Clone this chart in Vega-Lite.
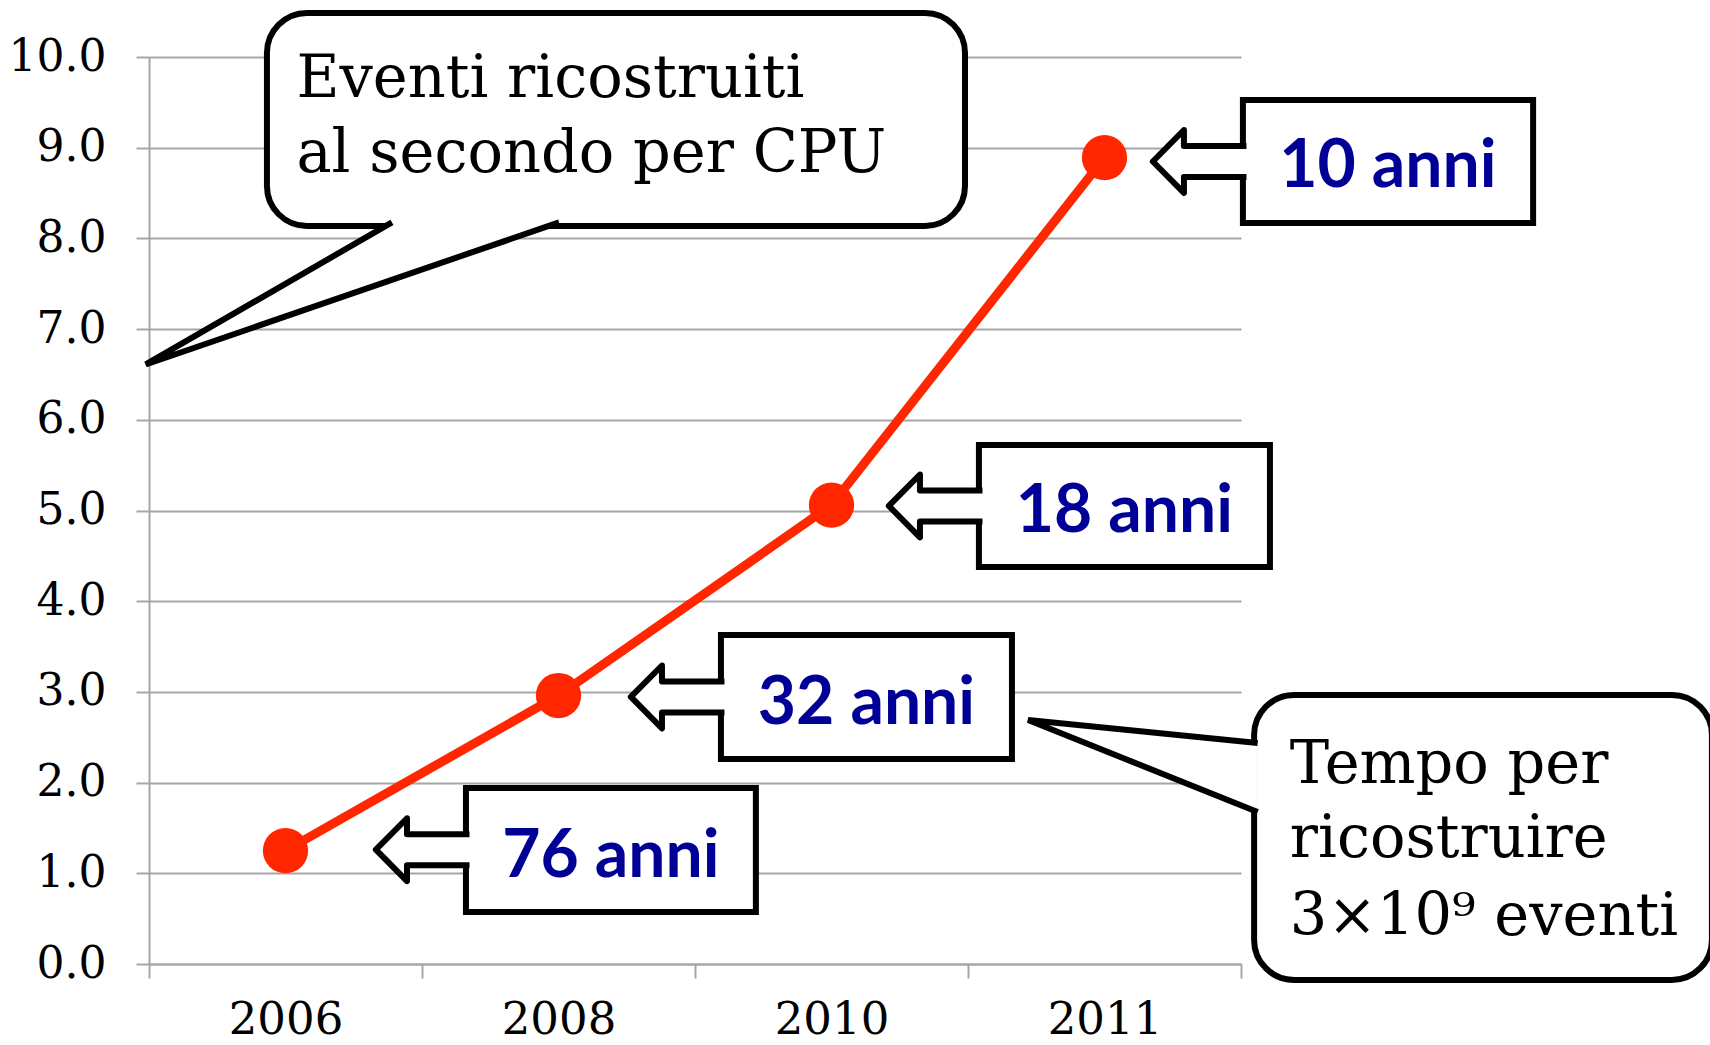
{
  "$schema": "https://vega.github.io/schema/vega-lite/v6.json",
  "width": 1092,
  "height": 907,
  "autosize": {"type": "none"},
  "padding": {"left": 149, "top": 57, "right": 469, "bottom": 81},
  "background": "white",
  "config": {"view": {"stroke": null}},
  "datasets": {
    "series": [
      {"year": "2006", "rate": 1.25},
      {"year": "2008", "rate": 2.96},
      {"year": "2010", "rate": 5.06},
      {"year": "2011", "rate": 8.89}
    ],
    "boxes": [
      {"label": "76 anni", "x1": 1.161, "x2": 2.223, "y1": 0.573, "y2": 1.94, "tx": 1.692, "ty": 0.959},
      {"label": "32 anni", "x1": 2.095, "x2": 3.161, "y1": 2.26, "y2": 3.627, "tx": 2.628, "ty": 2.646},
      {"label": "18 anni", "x1": 3.04, "x2": 4.106, "y1": 4.377, "y2": 5.722, "tx": 3.573, "ty": 4.762},
      {"label": "10 anni", "x1": 4.007, "x2": 5.07, "y1": 8.17, "y2": 9.526, "tx": 4.538, "ty": 8.567}
    ],
    "arrows": [
      {"label": "76 anni", "i": 0, "x": 1.174, "y": 1.431},
      {"label": "76 anni", "i": 1, "x": 0.945, "y": 1.431},
      {"label": "76 anni", "i": 2, "x": 0.945, "y": 1.607},
      {"label": "76 anni", "i": 3, "x": 0.831, "y": 1.26},
      {"label": "76 anni", "i": 4, "x": 0.945, "y": 0.913},
      {"label": "76 anni", "i": 5, "x": 0.945, "y": 1.089},
      {"label": "76 anni", "i": 6, "x": 1.174, "y": 1.089},
      {"label": "32 anni", "i": 0, "x": 2.108, "y": 3.115},
      {"label": "32 anni", "i": 1, "x": 1.879, "y": 3.115},
      {"label": "32 anni", "i": 2, "x": 1.879, "y": 3.291},
      {"label": "32 anni", "i": 3, "x": 1.765, "y": 2.944},
      {"label": "32 anni", "i": 4, "x": 1.879, "y": 2.597},
      {"label": "32 anni", "i": 5, "x": 1.879, "y": 2.773},
      {"label": "32 anni", "i": 6, "x": 2.108, "y": 2.773},
      {"label": "18 anni", "i": 0, "x": 3.053, "y": 5.221},
      {"label": "18 anni", "i": 1, "x": 2.824, "y": 5.221},
      {"label": "18 anni", "i": 2, "x": 2.824, "y": 5.397},
      {"label": "18 anni", "i": 3, "x": 2.71, "y": 5.05},
      {"label": "18 anni", "i": 4, "x": 2.824, "y": 4.703},
      {"label": "18 anni", "i": 5, "x": 2.824, "y": 4.879},
      {"label": "18 anni", "i": 6, "x": 3.053, "y": 4.879},
      {"label": "10 anni", "i": 0, "x": 4.02, "y": 9.019},
      {"label": "10 anni", "i": 1, "x": 3.791, "y": 9.019},
      {"label": "10 anni", "i": 2, "x": 3.791, "y": 9.195},
      {"label": "10 anni", "i": 3, "x": 3.677, "y": 8.848},
      {"label": "10 anni", "i": 4, "x": 3.791, "y": 8.501},
      {"label": "10 anni", "i": 5, "x": 3.791, "y": 8.677},
      {"label": "10 anni", "i": 6, "x": 4.02, "y": 8.677}
    ],
    "bubbles": [
      {"name": "eventi", "x1": 0.432, "x2": 2.989, "y1": 8.137, "y2": 10.485},
      {"name": "tempo", "x1": 4.048, "x2": 5.725, "y1": -0.176, "y2": 2.966}
    ],
    "tails": [
      {"name": "eventi", "i": 0, "x": 0.89, "y": 8.177},
      {"name": "eventi", "i": 1, "x": -0.012, "y": 6.61},
      {"name": "eventi", "i": 2, "x": 1.502, "y": 8.177},
      {"name": "tempo", "i": 0, "x": 4.061, "y": 2.437},
      {"name": "tempo", "i": 1, "x": 3.22, "y": 2.69},
      {"name": "tempo", "i": 2, "x": 4.061, "y": 1.676}
    ],
    "notes": [
      {"text": "Eventi ricostruiti", "x": 0.54, "y": 9.559},
      {"text": "al secondo per CPU", "x": 0.54, "y": 8.732},
      {"text": "Tempo per", "x": 4.179, "y": 1.996},
      {"text": "ricostruire", "x": 4.179, "y": 1.183},
      {"text": "3×10⁹ eventi", "x": 4.179, "y": 0.32}
    ]
  },
  "resolve": {"scale": {"x": "independent"}},
  "layer": [
    {
      "data": {"name": "series"},
      "mark": {"type": "line", "color": "#ff2600", "strokeWidth": 9},
      "encoding": {
        "x": {
          "field": "year", "type": "ordinal",
          "scale": {"type": "band", "paddingInner": 0, "paddingOuter": 0},
          "axis": {
            "title": null, "labelAngle": 0, "tickBand": "extent", "grid": false,
            "labelFont": "DejaVu Serif", "labelFontSize": 45, "labelColor": "black",
            "labelBaseline": "alphabetic", "labelPadding": 55,
            "tickSize": 14, "tickWidth": 2, "tickColor": "#a6a6a6",
            "domainColor": "#a6a6a6", "domainWidth": 2
          }
        },
        "y": {
          "field": "rate", "type": "quantitative",
          "scale": {"domain": [0, 10], "nice": false},
          "axis": {
            "title": null, "values": [0, 1, 2, 3, 4, 5, 6, 7, 8, 9, 10], "format": ".1f",
            "grid": true, "gridColor": "#a6a6a6", "gridWidth": 2,
            "tickSize": 13, "tickWidth": 2, "tickColor": "#a6a6a6",
            "domainColor": "#a6a6a6", "domainWidth": 2,
            "labelFont": "DejaVu Serif", "labelFontSize": 44, "labelColor": "black",
            "labelPadding": 30
          }
        }
      }
    },
    {
      "data": {"name": "series"},
      "mark": {"type": "point", "filled": true, "opacity": 1, "color": "#ff2600", "size": 2050},
      "encoding": {
        "x": {"field": "year", "type": "ordinal", "scale": {"type": "band", "paddingInner": 0, "paddingOuter": 0}, "axis": null},
        "y": {"field": "rate", "type": "quantitative", "scale": {"domain": [0, 10], "nice": false}}
      }
    },
    {
      "data": {"name": "boxes"},
      "mark": {"type": "rect", "fill": "white", "stroke": "black", "strokeWidth": 6},
      "encoding": {
        "x": {"field": "x1", "type": "quantitative", "scale": {"domain": [0, 4], "nice": false, "zero": false}, "axis": null},
        "x2": {"field": "x2"},
        "y": {"field": "y1", "type": "quantitative", "scale": {"domain": [0, 10], "nice": false}},
        "y2": {"field": "y2"}
      }
    },
    {
      "data": {"name": "arrows"},
      "mark": {"type": "line", "fill": "white", "stroke": "black", "strokeWidth": 6, "strokeJoin": "round"},
      "encoding": {
        "x": {"field": "x", "type": "quantitative", "scale": {"domain": [0, 4], "nice": false, "zero": false}, "axis": null},
        "y": {"field": "y", "type": "quantitative", "scale": {"domain": [0, 10], "nice": false}},
        "order": {"field": "i", "type": "quantitative"},
        "detail": {"field": "label", "type": "nominal"}
      }
    },
    {
      "data": {"name": "boxes"},
      "mark": {"type": "text", "font": "Lato", "fontWeight": "bold", "fontSize": 66, "color": "#000096", "align": "center", "baseline": "alphabetic"},
      "encoding": {
        "x": {"field": "tx", "type": "quantitative", "scale": {"domain": [0, 4], "nice": false, "zero": false}, "axis": null},
        "y": {"field": "ty", "type": "quantitative", "scale": {"domain": [0, 10], "nice": false}},
        "text": {"field": "label"}
      }
    },
    {
      "data": {"name": "bubbles"},
      "mark": {"type": "rect", "fill": "white", "stroke": "black", "strokeWidth": 6, "cornerRadius": 40},
      "encoding": {
        "x": {"field": "x1", "type": "quantitative", "scale": {"domain": [0, 4], "nice": false, "zero": false}, "axis": null},
        "x2": {"field": "x2"},
        "y": {"field": "y1", "type": "quantitative", "scale": {"domain": [0, 10], "nice": false}},
        "y2": {"field": "y2"}
      }
    },
    {
      "data": {"name": "tails"},
      "mark": {"type": "line", "fill": "white", "stroke": "black", "strokeWidth": 6, "strokeJoin": "miter"},
      "encoding": {
        "x": {"field": "x", "type": "quantitative", "scale": {"domain": [0, 4], "nice": false, "zero": false}, "axis": null},
        "y": {"field": "y", "type": "quantitative", "scale": {"domain": [0, 10], "nice": false}},
        "order": {"field": "i", "type": "quantitative"},
        "detail": {"field": "name", "type": "nominal"}
      }
    },
    {
      "data": {"name": "notes"},
      "mark": {"type": "text", "font": "DejaVu Serif", "fontSize": 59, "color": "black", "align": "left", "baseline": "alphabetic"},
      "encoding": {
        "x": {"field": "x", "type": "quantitative", "scale": {"domain": [0, 4], "nice": false, "zero": false}, "axis": null},
        "y": {"field": "y", "type": "quantitative", "scale": {"domain": [0, 10], "nice": false}},
        "text": {"field": "text"}
      }
    }
  ]
}
